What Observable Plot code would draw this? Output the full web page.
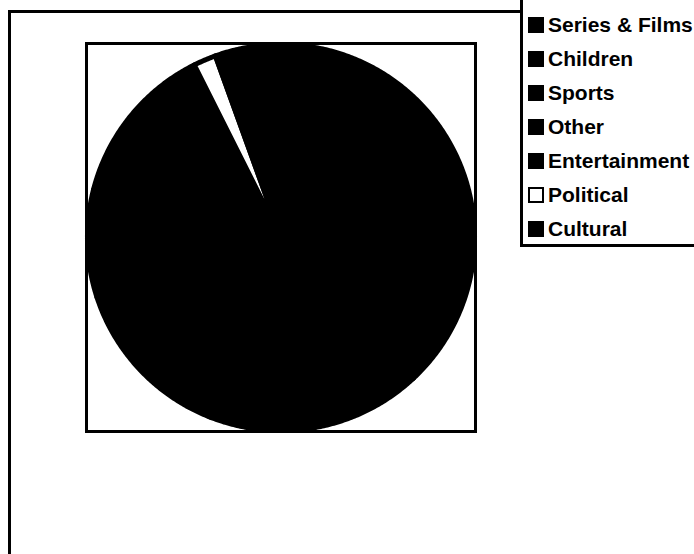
<!DOCTYPE html>
<html>
<head>
<meta charset="utf-8">
<script src="https://cdn.jsdelivr.net/npm/d3@7"></script>
<script src="https://cdn.jsdelivr.net/npm/@observablehq/plot@0.6"></script>
<style>
  html, body { margin: 0; padding: 0; background: #fff; overflow: hidden; }
  #page { position: relative; width: 694px; height: 554px; overflow: hidden; background: #fff; }
  #page svg { position: absolute; left: 0; top: 0; }
  #outer { position: absolute; left: 8px; top: 10px; width: 800px; height: 700px;
           border-left: 3.5px solid #000; border-top: 3px solid #000; }
  #legend { position: absolute; left: 520px; top: -10px; width: 300px; height: 254px;
            border-left: 3px solid #000; border-bottom: 3px solid #000; background: #fff; }
  .row { position: absolute; left: 0; height: 34px; display: flex; align-items: center;
         font-family: "Liberation Sans", Arial, sans-serif; font-weight: bold; font-size: 21px;
         white-space: nowrap; color: #000; }
  .sw { width: 16px; height: 16px; box-sizing: border-box; margin-left: 5px; margin-right: 4px; }
</style>
</head>
<body>
<div id="page">
  <div id="outer"></div>
</div>
<script>
// ---- data ----
const categories = ["Series & Films", "Children", "Sports", "Other", "Entertainment", "Political", "Cultural"];
const shares = [38, 18, 14, 9, 13.6, 1.9, 5.5];
// ---- style (separate from data) ----
const sliceColors = ["#000", "#000", "#000", "#000", "#000", "#fff", "#000"];

const arcs = d3.pie().sort(null).value(d => d)(shares);
const R = 0.995;
const rows = [];
arcs.forEach((a, i) => {
  const cat = categories[i];
  rows.push({cat, x: 0, y: 0});
  const n = Math.max(2, Math.ceil((a.endAngle - a.startAngle) / (Math.PI / 360)));
  for (let k = 0; k <= n; k++) {
    const t = a.startAngle + (a.endAngle - a.startAngle) * k / n;
    rows.push({cat, x: Math.sin(t) * R, y: Math.cos(t) * R});
  }
});

const chart = Plot.plot({
  width: 694,
  height: 554,
  marginLeft: 86,
  marginRight: 219,
  marginTop: 43,
  marginBottom: 123,
  x: {domain: [-1, 1], axis: null},
  y: {domain: [-1, 1], axis: null},
  color: {type: "ordinal", domain: categories, range: sliceColors},
  style: {background: "transparent", overflow: "visible"},
  marks: [
    Plot.frame({stroke: "#000", strokeWidth: 3}),
    Plot.line(rows, {x: "x", y: "y", z: "cat", fill: "cat", stroke: "#000",
                     strokeWidth: 5, curve: "linear-closed", strokeLinejoin: "round"})
  ]
});
const page = document.getElementById("page");
page.insertBefore(chart, page.firstChild);

// legend
const legend = document.createElement("div");
legend.id = "legend";
categories.forEach((c, i) => {
  const row = document.createElement("div");
  row.className = "row";
  row.style.top = (10 + 8 + i * 34) + "px";
  const sw = document.createElement("span");
  sw.className = "sw";
  sw.style.background = sliceColors[i];
  sw.style.border = "2px solid #000";
  const label = document.createElement("span");
  label.textContent = c;
  row.appendChild(sw);
  row.appendChild(label);
  legend.appendChild(row);
});
page.appendChild(legend);
</script>
</body>
</html>
